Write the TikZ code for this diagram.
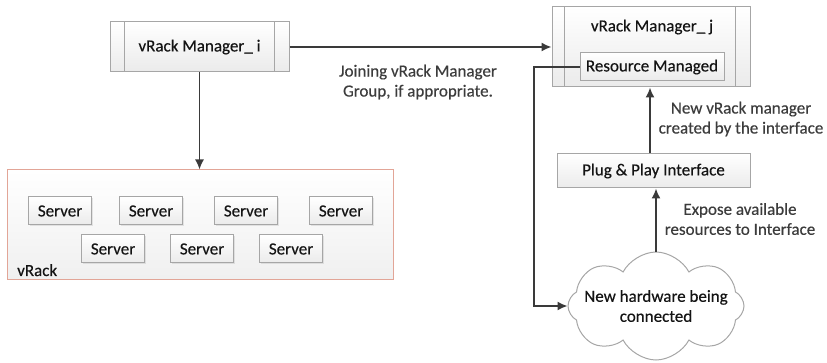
\documentclass[tikz,border=0pt]{standalone}
\usepackage{fontspec}
\setmainfont{Carlito}[FakeBold=0.4]
\usetikzlibrary{arrows.meta,shapes.symbols,shadows,calc}
\definecolor{boxline}{HTML}{A6A6A6}
\definecolor{rackline}{HTML}{E2A597}
\definecolor{conn}{HTML}{3A3A3A}
\definecolor{boxtext}{HTML}{141414}
\definecolor{labeltext}{HTML}{3C3C3C}
\tikzset{
  every node/.style={font=\fontsize{17}{20}\selectfont, inner sep=0pt},
  box/.style={draw=boxline, line width=1pt, top color=white, bottom color=black!8,
    text=boxtext, rectangle},
  serverbox/.style={box, minimum width=63pt, minimum height=28pt,
    drop shadow={shadow xshift=1.5pt, shadow yshift=-1.5pt, opacity=0.18}},
  procbox/.style={box, minimum width=#1, minimum height=50pt},
  note/.style={text=labeltext, align=center},
  arr/.style={draw=conn, line width=1.6pt, -{Latex[length=10pt,width=9pt]}},
}
\begin{document}
\begin{tikzpicture}[x=1pt,y=-1pt]
  \useasboundingbox (0,0) rectangle (827,363);

  % rack with its servers
  \node[box, draw=rackline, top color=white, bottom color=black!6,
        minimum width=386pt, minimum height=110pt] (rack) at (200,225) {};
  \node[text=boxtext, anchor=base west] (racklbl) at (17,276) {vRack};
  \foreach \n/\x/\y in {s1/60/211, s2/151/211, s3/246/211, s4/341/211,
                        s5/113/249, s6/202/249, s7/291/249}
    \node[serverbox] (\n) at (\x,\y) {Server};

  % manager i (predefined-process box)
  \node[procbox=179pt] (mi) at (199.5,47) {vRack Manager\_ i};
  \draw[boxline, line width=1pt] ([xshift=15pt]mi.north west) -- ([xshift=15pt]mi.south west)
        ([xshift=-15pt]mi.north east) -- ([xshift=-15pt]mi.south east);

  % manager j with managed resource
  \node[box, minimum width=198pt, minimum height=80pt] (mj) at (651,47) {};
  \draw[boxline, line width=1pt] ([xshift=13pt]mj.north west) -- ([xshift=13pt]mj.south west)
        ([xshift=-15pt]mj.north east) -- ([xshift=-15pt]mj.south east);
  \node[text=boxtext] (mjtitle) at (652,27) {vRack Manager\_ j};
  \node[box, minimum width=144pt, minimum height=28pt] (rm) at (652,67) {Resource Managed};

  % plug & play interface and new hardware (cloud outline, then its text)
  \node[box, minimum width=193pt, minimum height=34pt] (pp) at (653.5,171) {Plug \& Play Interface};
  \node[cloud, cloud puffs=8, cloud puff arc=125, draw=boxline, line width=1pt,
        fill=white, aspect=1.6, minimum width=176pt, minimum height=108pt] (hw) at (656,306) {};
  \node[text=boxtext, align=center] (hwtext) at (hw.center) {New hardware being\\connected};

  % connectors
  \draw[arr] (mi.east) -- (mi.east -| mj.west);
  \draw[arr] (mi.south) -- (mi.south |- rack.north);
  \draw[arr] ([xshift=-3.5pt]pp.north) -- ([xshift=-3.5pt]pp.north |- mj.south);
  \draw[arr] (hw.north) -- (hw.north |- pp.south);
  \coordinate (bend) at (534,67);
  \draw[arr] (rm.west) -- (bend) |- (hw.west);

  % connector labels
  \node[note] (lbljoin) at (418,82) {Joining vRack Manager\\Group, if appropriate.};
  \node[note] (lblnew) at (741,119) {New vRack manager\\created by the interface};
  \node[note] (lblexp) at (740,219) {Expose available\\resources to Interface};
\end{tikzpicture}
\end{document}
